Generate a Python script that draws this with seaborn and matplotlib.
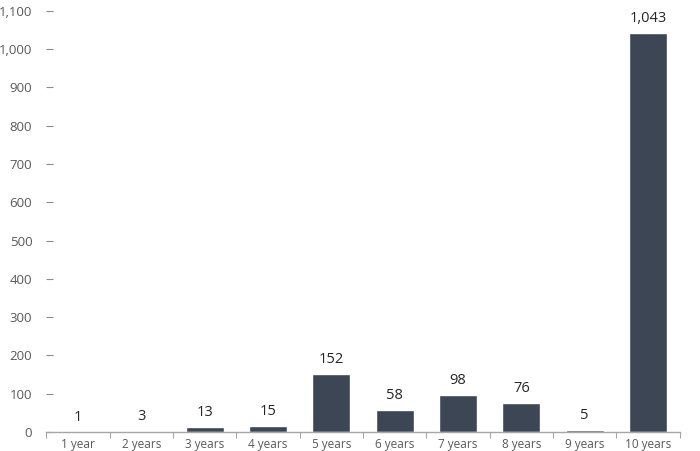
import numpy as np
import pandas as pd
import matplotlib
matplotlib.use('Agg')
import matplotlib.pyplot as plt
import seaborn as sns
from matplotlib.ticker import FuncFormatter, FixedLocator

# data
categories = ['1 year', '2 years', '3 years', '4 years', '5 years',
              '6 years', '7 years', '8 years', '9 years', '10 years']
counts = [1, 3, 13, 15, 152, 58, 98, 76, 5, 1043]

df = pd.DataFrame({'term': categories, 'count': counts})

sns.set_style('white')
plt.rcParams['font.family'] = ['Open Sans', 'DejaVu Sans']

fig = plt.figure(figsize=(7, 4.51), dpi=100)
ax = fig.add_axes([0.066, 0.042, 0.905, 0.934])

sns.barplot(data=df, x='term', y='count', color='#3c4654', saturation=1,
            width=0.6, ax=ax)

# value labels
for i, v in enumerate(counts):
    ax.text(i, v + 18, f'{v:,}', ha='center', va='bottom',
            fontsize=10.5, color='#262626')

ax.set_ylim(0, 1100)
ax.set_xlim(-0.5, len(categories) - 0.5)
ax.set_yticks(np.arange(0, 1101, 100))
ax.yaxis.set_major_formatter(FuncFormatter(lambda v, p: f'{int(v):,}'))
ax.set_xlabel('')
ax.set_ylabel('')

for s in ['top', 'right', 'left']:
    ax.spines[s].set_visible(False)
ax.spines['bottom'].set_color('#a6a6a6')
ax.spines['bottom'].set_linewidth(1)

ax.tick_params(axis='y', left=True, length=5, width=0.8, color='#8c8c8c',
               direction='in', pad=10, labelsize=9.5, labelcolor='#595959')
ax.tick_params(axis='x', bottom=False, labelsize=8.5, labelcolor='#595959', pad=1)

# tick marks between categories on the x axis
ax.xaxis.set_minor_locator(FixedLocator(np.arange(-0.5, len(categories), 1)))
ax.tick_params(axis='x', which='minor', bottom=True, length=4, width=0.8,
               color='#a6a6a6', direction='out')

plt.savefig('out.png', dpi=100)
plt.close()
